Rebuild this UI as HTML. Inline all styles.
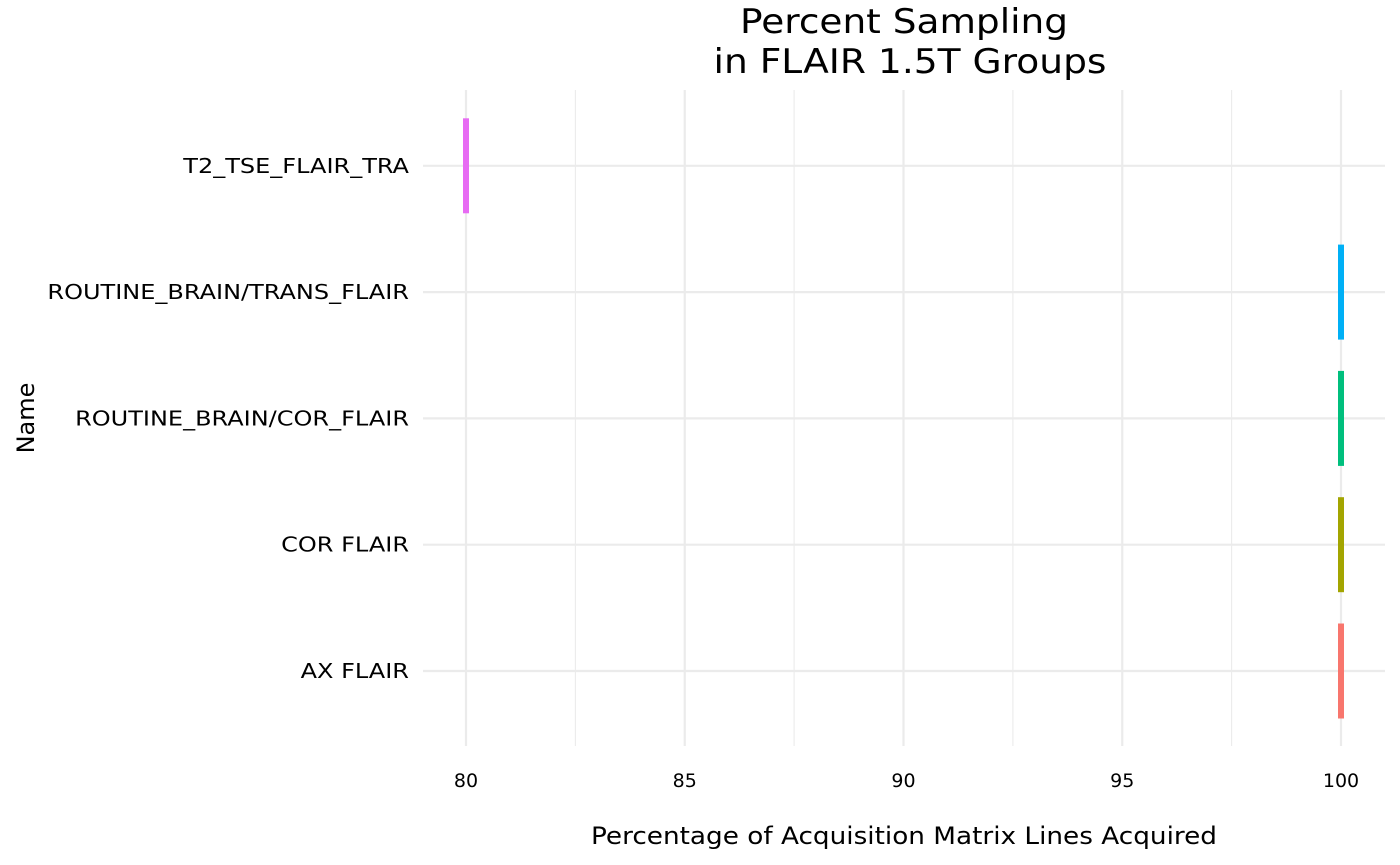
<!DOCTYPE html>
<html><head><meta charset="utf-8"><style>
body{margin:0;background:#fff;}
svg{display:block;font-family:"DejaVu Sans","Liberation Sans",sans-serif;}
</style></head><body>
<svg id="chart" width="1400" height="865"></svg>
<script>
const categories=["AX FLAIR","COR FLAIR","ROUTINE_BRAIN/COR_FLAIR","ROUTINE_BRAIN/TRANS_FLAIR","T2_TSE_FLAIR_TRA"];
const values=[100,100,100,100,80];
const colors=["#F8766D","#A3A500","#00BF7D","#00B0F6","#E76BF3"];
const xTicks=[80,85,90,95,100];
const xMinor=[82.5,87.5,92.5,97.5];
const NS="http://www.w3.org/2000/svg";
const svg=document.getElementById('chart');
const L=423,R=1385,T=90,B=746;
const xs=v=>466+(v-80)*(1341-466)/20;
const ys=i=>671-i*126.3;
function mk(tag,attrs,parent){const e=document.createElementNS(NS,tag);for(const k in attrs)e.setAttribute(k,attrs[k]);(parent||svg).appendChild(e);return e;}
const grid=mk('g',{});


xMinor.forEach(v=>{const l=mk('line',{x1:xs(v),x2:xs(v),y1:T,y2:B,stroke:'#EBEBEB','stroke-width':1.1},grid);

});
xTicks.forEach(v=>{const l=mk('line',{x1:xs(v),x2:xs(v),y1:T,y2:B,stroke:'#EBEBEB','stroke-width':2.2},grid);


const t=mk('text',{x:xs(v),y:787,'text-anchor':'middle','font-size':19,fill:'#000'});t.textContent=v;

});
categories.forEach((c,i)=>{const l=mk('line',{x1:L,x2:R,y1:ys(i),y2:ys(i),stroke:'#EBEBEB','stroke-width':2.2},grid);


const t=mk('text',{x:409,y:ys(i)+7,'text-anchor':'end','font-size':20,fill:'#000'});t.textContent=c;


const w=t.getComputedTextLength();t.setAttribute('textLength',w*1.2);t.setAttribute('lengthAdjust','spacingAndGlyphs');});
categories.forEach((c,i)=>{const r=mk('rect',{x:xs(values[i])-3,y:ys(i)-47.5,width:6,height:95,fill:colors[i]});

});
let t=mk('text',{x:904,y:33,'text-anchor':'middle','font-size':34,textLength:328,lengthAdjust:'spacingAndGlyphs'});t.textContent='Percent Sampling';


t=mk('text',{x:910,y:73,'text-anchor':'middle','font-size':34,textLength:393,lengthAdjust:'spacingAndGlyphs'});t.textContent='in FLAIR 1.5T Groups';


t=mk('text',{x:904,y:844,'text-anchor':'middle','font-size':24,textLength:626,lengthAdjust:'spacingAndGlyphs'});t.textContent='Percentage of Acquisition Matrix Lines Acquired';


t=mk('text',{x:34,y:418,'text-anchor':'middle','font-size':24,transform:'rotate(-90 34 418)'});t.textContent='Name';


</script>
</body></html>
